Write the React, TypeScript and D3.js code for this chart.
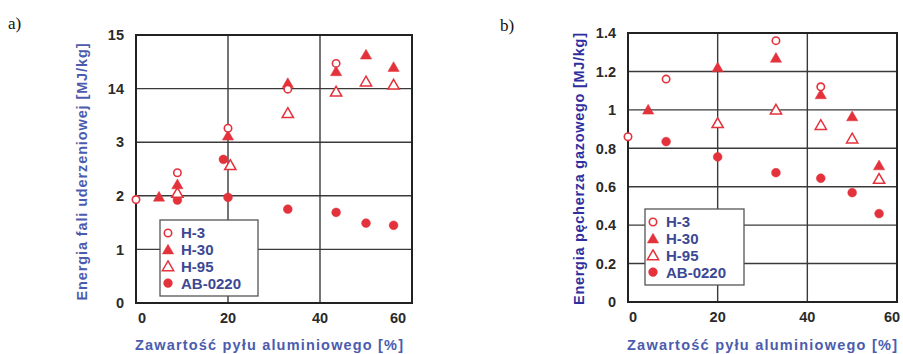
import { useRef, useEffect } from "react";
import * as d3 from "d3";

type Pt = [number, number];

// panel a) - shock wave energy
const h3A: Pt[] = [[0, 1.93], [9, 2.43], [20, 3.26], [33, 3.99], [43.5, 4.47]];
const h30A: Pt[] = [[5, 1.98], [9, 2.21], [20, 3.12], [33, 4.1], [43.5, 4.32], [50, 4.63], [56, 4.4]];
const h95A: Pt[] = [[9, 2.05], [20.5, 2.57], [33, 3.54], [43.5, 3.94], [50, 4.13], [56, 4.07]];
const abA: Pt[] = [[9, 1.92], [19, 2.68], [20, 1.97], [33, 1.75], [43.5, 1.69], [50, 1.49], [56, 1.45]];
const yTicksA = [0, 1, 2, 3, 4, 5];
const yTickLabelsA = ["0", "1", "2", "3", "14", "15"];

// panel b) - bubble energy
const h3B: Pt[] = [[0, 0.86], [8.5, 1.16], [33, 1.36], [43, 1.12]];
const h30B: Pt[] = [[4.5, 1.0], [20, 1.22], [33, 1.27], [43, 1.08], [50, 0.965], [56, 0.71]];
const h95B: Pt[] = [[20, 0.93], [33, 1.0], [43, 0.92], [50, 0.85], [56, 0.64]];
const abB: Pt[] = [[8.5, 0.835], [20, 0.755], [33, 0.673], [43, 0.644], [50, 0.569], [56, 0.46]];
const yTicksB = [0, 0.2, 0.4, 0.6, 0.8, 1, 1.2, 1.4];
const yTickLabelsB = ["0", "0.2", "0.4", "0.6", "0.8", "1", "1.2", "1.4"];

const xTicks = [0, 20, 40, 60];
const seriesNames = ["H-3", "H-30", "H-95", "AB-0220"];
const xTitle = "Zawartość pyłu aluminiowego [%]";

const RED = "#e3323b";
const FONT = "'Liberation Sans', Arial, sans-serif";

type PanelCfg = {
  tag: string;
  tagX: number;
  tagY: number;
  left: number;
  right: number;
  top: number;
  bottom: number;
  yMax: number;
  yTicks: number[];
  yTickLabels: string[];
  series: Pt[][];
  yTitle: string;
  yTitleX: number;
  yTitleY: number;
  yTitleLen: number;
  xTitleX: number;
  xTitleLen: number;
  yTitleColor: string;
  legend: { x: number; y: number; w: number; h: number };
  xLabelNudge: number[];
};

function drawPanel(g: d3.Selection<SVGGElement, unknown, null, undefined>, c: PanelCfg) {
  const x = d3.scaleLinear().domain([0, 60]).range([c.left, c.right]);
  const y = d3.scaleLinear().domain([0, c.yMax]).range([c.bottom, c.top]);

  g.append("text")
    .attr("x", c.tagX)
    .attr("y", c.tagY)
    .attr("font-family", "'Liberation Serif', 'Times New Roman', serif")
    .attr("font-size", 17)
    .attr("fill", "#111")
    .text(c.tag);

  // grid
  g.append("g")
    .selectAll("line")
    .data(c.yTicks.slice(1, -1))
    .join("line")
    .attr("x1", c.left)
    .attr("x2", c.right)
    .attr("y1", (d) => y(d))
    .attr("y2", (d) => y(d))
    .attr("stroke", "#3a3a3a")
    .attr("stroke-width", 1.4);
  g.append("g")
    .selectAll("line")
    .data(xTicks.slice(1, -1))
    .join("line")
    .attr("x1", (d) => x(d))
    .attr("x2", (d) => x(d))
    .attr("y1", c.top)
    .attr("y2", c.bottom)
    .attr("stroke", "#3a3a3a")
    .attr("stroke-width", 1.4);

  // frame
  g.append("rect")
    .attr("x", c.left)
    .attr("y", c.top)
    .attr("width", c.right - c.left)
    .attr("height", c.bottom - c.top)
    .attr("fill", "none")
    .attr("stroke", "#222")
    .attr("stroke-width", 2);

  // tick labels
  g.append("g")
    .selectAll("text")
    .data(c.yTicks)
    .join("text")
    .attr("x", c.left - 12)
    .attr("y", (d) => y(d))
    .attr("dy", "0.36em")
    .attr("text-anchor", "end")
    .attr("font-family", FONT)
    .attr("font-weight", "bold")
    .attr("font-size", 14.5)
    .attr("fill", "#2a2a2a")
    .text((_, i) => c.yTickLabels[i]);
  g.append("g")
    .selectAll("text")
    .data(xTicks)
    .join("text")
    .attr("x", (d, i) => x(d) + c.xLabelNudge[i])
    .attr("y", c.bottom + 20)
    .attr("text-anchor", "middle")
    .attr("font-family", FONT)
    .attr("font-weight", "bold")
    .attr("font-size", 14.5)
    .attr("fill", "#2a2a2a")
    .text((d) => String(d));

  // axis titles
  g.append("text")
    .attr("x", c.xTitleX)
    .attr("y", 350)
    .attr("text-anchor", "middle")
    .attr("font-family", FONT)
    .attr("font-weight", "bold")
    .attr("font-size", 14.5)
    .attr("textLength", c.xTitleLen)
    .attr("lengthAdjust", "spacing")
    .attr("fill", "#4b5cae")
    .text(xTitle);
  g.append("text")
    .attr("transform", `translate(${c.yTitleX},${c.yTitleY}) rotate(-90)`)
    .attr("text-anchor", "middle")
    .attr("font-family", FONT)
    .attr("font-weight", "bold")
    .attr("font-size", 14.5)
    .attr("textLength", c.yTitleLen)
    .attr("lengthAdjust", "spacing")
    .attr("fill", c.yTitleColor)
    .text(c.yTitle);

  // legend box (drawn over the grid, under the markers)
  const L = c.legend;
  g.append("rect")
    .attr("x", L.x)
    .attr("y", L.y)
    .attr("width", L.w)
    .attr("height", L.h)
    .attr("fill", "#fff")
    .attr("stroke", "#555")
    .attr("stroke-width", 1.3);

  const tri = d3.symbol().type(d3.symbolTriangle).size(55);
  const drawMarker = (
    sel: d3.Selection<SVGGElement, unknown, null, undefined>,
    kind: number,
    px: number,
    py: number
  ) => {
    if (kind === 0 || kind === 3) {
      sel.append("circle")
        .attr("cx", px)
        .attr("cy", py)
        .attr("r", kind === 0 ? 3.7 : 4.4)
        .attr("fill", kind === 0 ? "#fff" : RED)
        .attr("stroke", RED)
        .attr("stroke-width", kind === 0 ? 1.6 : 0.5);
    } else {
      sel.append("path")
        .attr("d", tri()!)
        .attr("transform", `translate(${px},${py + 1})`)
        .attr("fill", kind === 1 ? RED : "#fff")
        .attr("stroke", RED)
        .attr("stroke-width", kind === 1 ? 0.5 : 1.5);
    }
  };

  seriesNames.forEach((name, i) => {
    const ry = L.y + 13 + i * 16.7;
    drawMarker(g, i, L.x + 8, ry);
    g.append("text")
      .attr("x", L.x + 21)
      .attr("y", ry)
      .attr("dy", "0.36em")
      .attr("font-family", FONT)
      .attr("font-weight", "bold")
      .attr("font-size", 15)
      .attr("fill", "#3c4894")
      .text(name);
  });

  // data markers, AB-0220 first so open symbols stay visible
  [3, 2, 1, 0].forEach((k) => {
    c.series[k].forEach(([vx, vy]) => drawMarker(g, k, x(vx), y(vy)));
  });
}

export default function App() {
  const ref = useRef<SVGSVGElement>(null);

  useEffect(() => {
    if (!ref.current) return;
    const svg = d3.select(ref.current);
    svg.selectAll("*").remove();

    drawPanel(svg.append("g"), {
      tag: "a)",
      tagX: 8,
      tagY: 29,
      left: 136,
      right: 412,
      top: 35,
      bottom: 303,
      yMax: 5,
      yTicks: yTicksA,
      yTickLabels: yTickLabelsA,
      series: [h3A, h30A, h95A, abA],
      yTitle: "Energia fali uderzeniowej [MJ/kg]",
      yTitleX: 87,
      yTitleY: 172,
      yTitleLen: 257,
      xTitleX: 269,
      xTitleLen: 268,
      yTitleColor: "#4b5cae",
      legend: { x: 160, y: 220, w: 98, h: 76 },
      xLabelNudge: [6, 0, 0, -14],
    });

    drawPanel(svg.append("g"), {
      tag: "b)",
      tagX: 500,
      tagY: 31,
      left: 628,
      right: 897,
      top: 33,
      bottom: 302,
      yMax: 1.4,
      yTicks: yTicksB,
      yTickLabels: yTickLabelsB,
      series: [h3B, h30B, h95B, abB],
      yTitle: "Energia pęcherza gazowego [MJ/kg]",
      yTitleX: 584,
      yTitleY: 169,
      yTitleLen: 272,
      xTitleX: 762,
      xTitleLen: 270,
      yTitleColor: "#2e2e9e",
      legend: { x: 645, y: 209, w: 99, h: 76 },
      xLabelNudge: [5, 0, 0, -5],
    });
  }, []);

  return (
    <svg
      ref={ref}
      width={903}
      height={354}
      style={{ position: "absolute", left: 0, top: 0, background: "#fff" }}
    />
  );
}
